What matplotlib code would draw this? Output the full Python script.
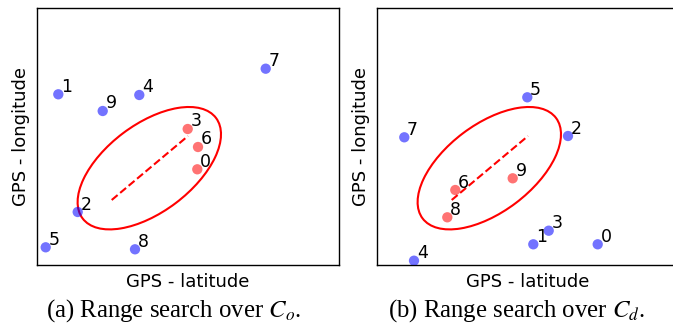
import numpy as np
import matplotlib
matplotlib.use("Agg")
import matplotlib.pyplot as plt
from matplotlib.patches import Ellipse

# ── data (arbitrary lat/lon units) ───────────────────────────────────────────
ids = list(range(10))

lat_o = [160.3, 21.3, 40.7, 150.7, 102.3, 8.7, 161.0, 228.7, 98.0, 65.7]
lon_o = [95.7, 170.7, 53.0, 136.0, 170.0, 17.7, 118.0, 196.3, 15.7, 154.0]
hit_o = [0, 3, 6]

lat_d = [220.7, 156.3, 191.0, 171.7, 37.0, 150.3, 78.3, 27.3, 70.3, 135.7]
lon_d = [20.7, 20.7, 129.0, 34.3, 4.3, 167.7, 75.0, 127.7, 47.7, 86.7]
hit_d = [6, 8, 9]

# query range: ellipse + its (dashed) trajectory segment
ell_center = (112.3, 96.8)
ell_width, ell_height, ell_angle = 167, 87.5, 37
seg_lat = [74.7, 151.0]
seg_lon = [65.0, 129.0]

captions = [r"(a) Range search over $C_o$.", r"(b) Range search over $C_d$."]

XLIM = (0, 302)
YLIM = (0, 257)

plt.rcParams["mathtext.fontset"] = "stix"


def draw_panel(ax, lat, lon, hits):
    cols = ["red" if i in hits else "blue" for i in ids]
    ax.scatter(lat, lon, s=55, c=cols, alpha=0.55, linewidths=0, zorder=3)
    for i, x, y in zip(ids, lat, lon):
        ax.annotate(str(i), (x, y), xytext=(2.0, 1.8), textcoords="offset points",
                    ha="left", va="baseline", fontsize=12.5, color="black", zorder=4)
    ax.add_patch(Ellipse(ell_center, ell_width, ell_height, angle=ell_angle,
                         fill=False, edgecolor="red", linewidth=1.5, zorder=2))
    ax.plot(seg_lat, seg_lon, "--", color="red", linewidth=1.5, zorder=2)
    ax.set_xlim(*XLIM)
    ax.set_ylim(*YLIM)
    ax.set_xticks([])
    ax.set_yticks([])
    ax.set_xlabel("GPS - latitude", fontsize=13, labelpad=6)
    ax.set_ylabel("GPS - longitude", fontsize=13, labelpad=5)
    for sp in ax.spines.values():
        sp.set_linewidth(1.0)
        sp.set_color("black")


fig = plt.figure(figsize=(6.73, 3.25), dpi=100)
ax1 = fig.add_axes([37 / 673, 60 / 325, 302 / 673, 257 / 325])
ax2 = fig.add_axes([377 / 673, 60 / 325, 302 / 673, 257 / 325])

draw_panel(ax1, lat_o, lon_o, hit_o)
draw_panel(ax2, lat_d, lon_d, hit_d)

fig.text(174 / 673, 1 - 311 / 325, captions[0], ha="center", va="center",
         fontsize=17.8, family="Liberation Serif")
fig.text(516 / 673, 1 - 311 / 325, captions[1], ha="center", va="center",
         fontsize=17.8, family="Liberation Serif")

fig.savefig("out.png", dpi=100)
